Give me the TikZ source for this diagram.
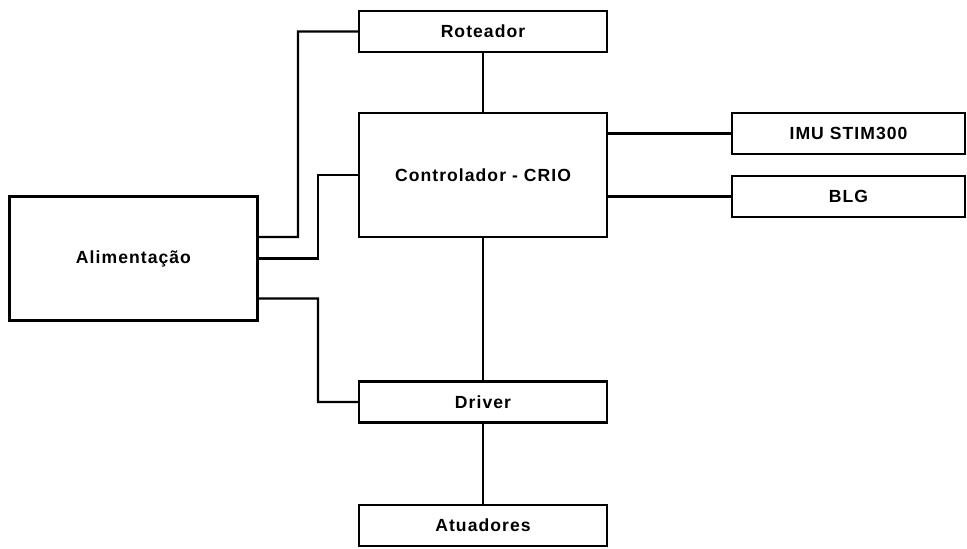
\documentclass[tikz,border=0pt]{standalone}
\usepackage{fontspec}
\setmainfont{Liberation Sans}
\newfontfamily\blocofont[LetterSpace=6]{Liberation Sans}
\begin{document}
\begin{tikzpicture}[x=0.02cm, y=-0.02cm, line width=1.2pt,
    bloco/.style={draw, rectangle, inner sep=0pt, minimum width=4.96cm,
      font=\blocofont\fontsize{10}{12}\selectfont\bfseries},
    baixo/.style={bloco, minimum height=0.82cm},
    alto/.style={bloco, minimum height=2.48cm},
    sensor/.style={baixo, minimum width=4.66cm}]
    % Bounding box
    \useasboundingbox (0,0) rectangle (967,548);

    % Blocks
    \node[alto] (alim) at (133.5,258.5) {Alimentação};
    \node[baixo] (rot) at (483,31.5) {Roteador};
    \node[alto] (ctrl) at (483,175) {Controlador - CRIO};
    \node[sensor] (imu) at (848.5,133.5) {IMU STIM300};
    \node[sensor] (blg) at (848.5,196.5) {BLG};
    \node[baixo] (drv) at (483,402) {Driver};
    \node[baixo] (atu) at (483,525.5) {Atuadores};

    % Power lines
    \draw ([yshift=0.43cm]alim.east) -- (298,237) |- (rot.west);
    \draw (alim.east) -- (318,258.5) |- (ctrl.west);
    \draw ([yshift=-0.8cm]alim.east) -- (318,298.5) |- (drv.west);

    % Signal lines
    \draw (rot.south) -- (ctrl.north);
    \draw (ctrl.east |- imu.west) -- (imu.west);
    \draw (ctrl.east |- blg.west) -- (blg.west);
    \draw (ctrl.south) -- (drv.north);
    \draw (drv.south) -- (atu.north);
\end{tikzpicture}
\end{document}
